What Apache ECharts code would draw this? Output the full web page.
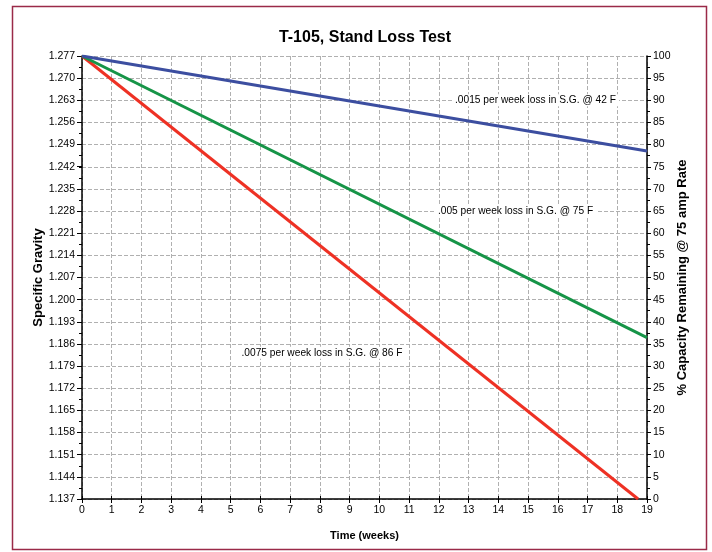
<!DOCTYPE html>
<html>
<head>
<meta charset="utf-8">
<script src="https://cdn.jsdelivr.net/npm/echarts@6/dist/echarts.min.js"></script>
<style>
html,body{margin:0;padding:0;background:#fff;}
#chart{width:712px;height:552px;}
</style>
</head>
<body>
<div id="chart"></div>
<script>
// ---- data ----
const sgTicks = ['1.137','1.144','1.151','1.158','1.165','1.172','1.179','1.186','1.193','1.200','1.207','1.214','1.221','1.228','1.235','1.242','1.249','1.256','1.263','1.270','1.277'];
const weeksLoss42 = [0, 19];
const sgLoss42 = [1.277, 1.247];
const weeksLoss75 = [0, 19];
const sgLoss75 = [1.277, 1.188];
const weeksLoss86 = [0, 18.7];
const sgLoss86 = [1.277, 1.137];
const labelTexts = ['.0015 per week loss in S.G. @ 42 F', '.005 per week loss in S.G. @ 75 F', '.0075 per week loss in S.G. @ 86 F'];

const FONT = "'Liberation Sans', Arial, sans-serif";
const pair = (xs, ys) => xs.map((x, i) => [x, ys[i]]);

const chart = echarts.init(document.getElementById('chart'), null, {renderer: 'canvas'});

function note(text, x, y) {
  return {
    coord: [x, y], symbol: 'rect', symbolSize: 1,
    itemStyle: {color: 'rgba(0,0,0,0)'},
    label: {show: true, position: 'inside', formatter: text, color: '#000', fontSize: 10.2, fontFamily: FONT,
      backgroundColor: '#fff', padding: [1, 3]}
  };
}

const gridLine = {show: true, lineStyle: {color: '#b0b0b0', type: [4, 2], width: 1}};

chart.setOption({
  animation: false,
  backgroundColor: '#fff',
  textStyle: {fontFamily: FONT},
  title: {
    text: 'T-105, Stand Loss Test', left: 360, textAlign: 'center', top: 25,
    textStyle: {fontSize: 16, fontWeight: 'bold', color: '#000', fontFamily: FONT}
  },
  graphic: [{
    type: 'rect', shape: {x: 12.5, y: 6.5, width: 694, height: 543},
    style: {fill: 'none', stroke: '#9a2a48', lineWidth: 1.5}, silent: true, z: -1
  }],
  grid: {left: 82, right: 65, top: 56, bottom: 53},
  xAxis: [{
    type: 'value', min: 0, max: 19, interval: 1,
    name: 'Time (weeks)', nameLocation: 'middle', nameGap: 31,
    nameTextStyle: {fontSize: 11, fontWeight: 'bold', color: '#000', fontFamily: FONT},
    axisLine: {show: true, onZero: false, lineStyle: {color: '#000', width: 1.5}},
    axisTick: {show: true, length: 4, lineStyle: {color: '#000'}},
    axisLabel: {fontSize: 10.5, color: '#000', margin: 6, fontFamily: FONT},
    splitLine: gridLine
  }, {
    type: 'value', min: 0, max: 19, interval: 1, position: 'bottom',
    axisLine: {show: false}, axisLabel: {show: false}, splitLine: {show: false},
    axisTick: {show: true, inside: true, length: 3, lineStyle: {color: '#000'}}
  }],
  yAxis: [{
    type: 'value', min: 1.137, max: 1.277, position: 'left',
    name: 'Specific Gravity', nameLocation: 'middle', nameGap: 37, nameRotate: 90, nameMoveOverlap: false,
    nameTextStyle: {fontSize: 13, fontWeight: 'bold', color: '#000', fontFamily: FONT},
    axisLine: {show: true, onZero: false, lineStyle: {color: '#000', width: 1.5}},
    axisTick: {show: true, length: 5, customValues: sgTicks.map(Number), lineStyle: {color: '#000'}},
    axisLabel: {customValues: sgTicks.map(Number), formatter: v => v.toFixed(3), fontSize: 10.5, color: '#000', margin: 7, fontFamily: FONT},
    splitLine: {show: false}
  }, {
    type: 'value', min: 0, max: 100, interval: 5, position: 'right',
    name: '% Capacity Remaining @ 75 amp Rate', nameLocation: 'middle', nameGap: 29, nameRotate: 90, nameMoveOverlap: false,
    nameTextStyle: {fontSize: 13, fontWeight: 'bold', color: '#000', fontFamily: FONT},
    axisLine: {show: true, onZero: false, lineStyle: {color: '#000', width: 1.5}},
    axisTick: {show: true, length: 4, lineStyle: {color: '#000'}},
    minorTick: {show: true, splitNumber: 2, length: 3, lineStyle: {color: '#000'}},
    axisLabel: {fontSize: 10.5, color: '#000', margin: 6, fontFamily: FONT},
    splitLine: gridLine
  }, {
    type: 'value', min: 0, max: 100, interval: 5, position: 'right',
    axisLine: {show: false}, axisLabel: {show: false}, splitLine: {show: false},
    axisTick: {show: true, inside: true, length: 3, lineStyle: {color: '#000'}}
  }, {
    type: 'value', min: 0, max: 100, interval: 5, position: 'left',
    axisLine: {show: false}, axisLabel: {show: false}, splitLine: {show: false},
    axisTick: {show: false},
    minorTick: {show: true, splitNumber: 2, length: 3, lineStyle: {color: '#000'}}
  }],
  series: [{
    name: '42 F', type: 'line', data: pair(weeksLoss42, sgLoss42), yAxisIndex: 0,
    symbol: 'none', lineStyle: {color: '#3c4ea0', width: 3}, z: 4,
    markPoint: {data: [note(labelTexts[0], 15.25, 1.263)], silent: true}
  }, {
    name: '75 F', type: 'line', data: pair(weeksLoss75, sgLoss75), yAxisIndex: 0,
    symbol: 'none', lineStyle: {color: '#169447', width: 3}, z: 3,
    markPoint: {data: [note(labelTexts[1], 14.58, 1.228)], silent: true}
  }, {
    name: '86 F', type: 'line', data: pair(weeksLoss86, sgLoss86), yAxisIndex: 0,
    symbol: 'none', lineStyle: {color: '#ee3124', width: 3}, z: 2,
    markPoint: {data: [note(labelTexts[2], 8.07, 1.1832)], silent: true}
  }]
});
</script>
</body>
</html>
